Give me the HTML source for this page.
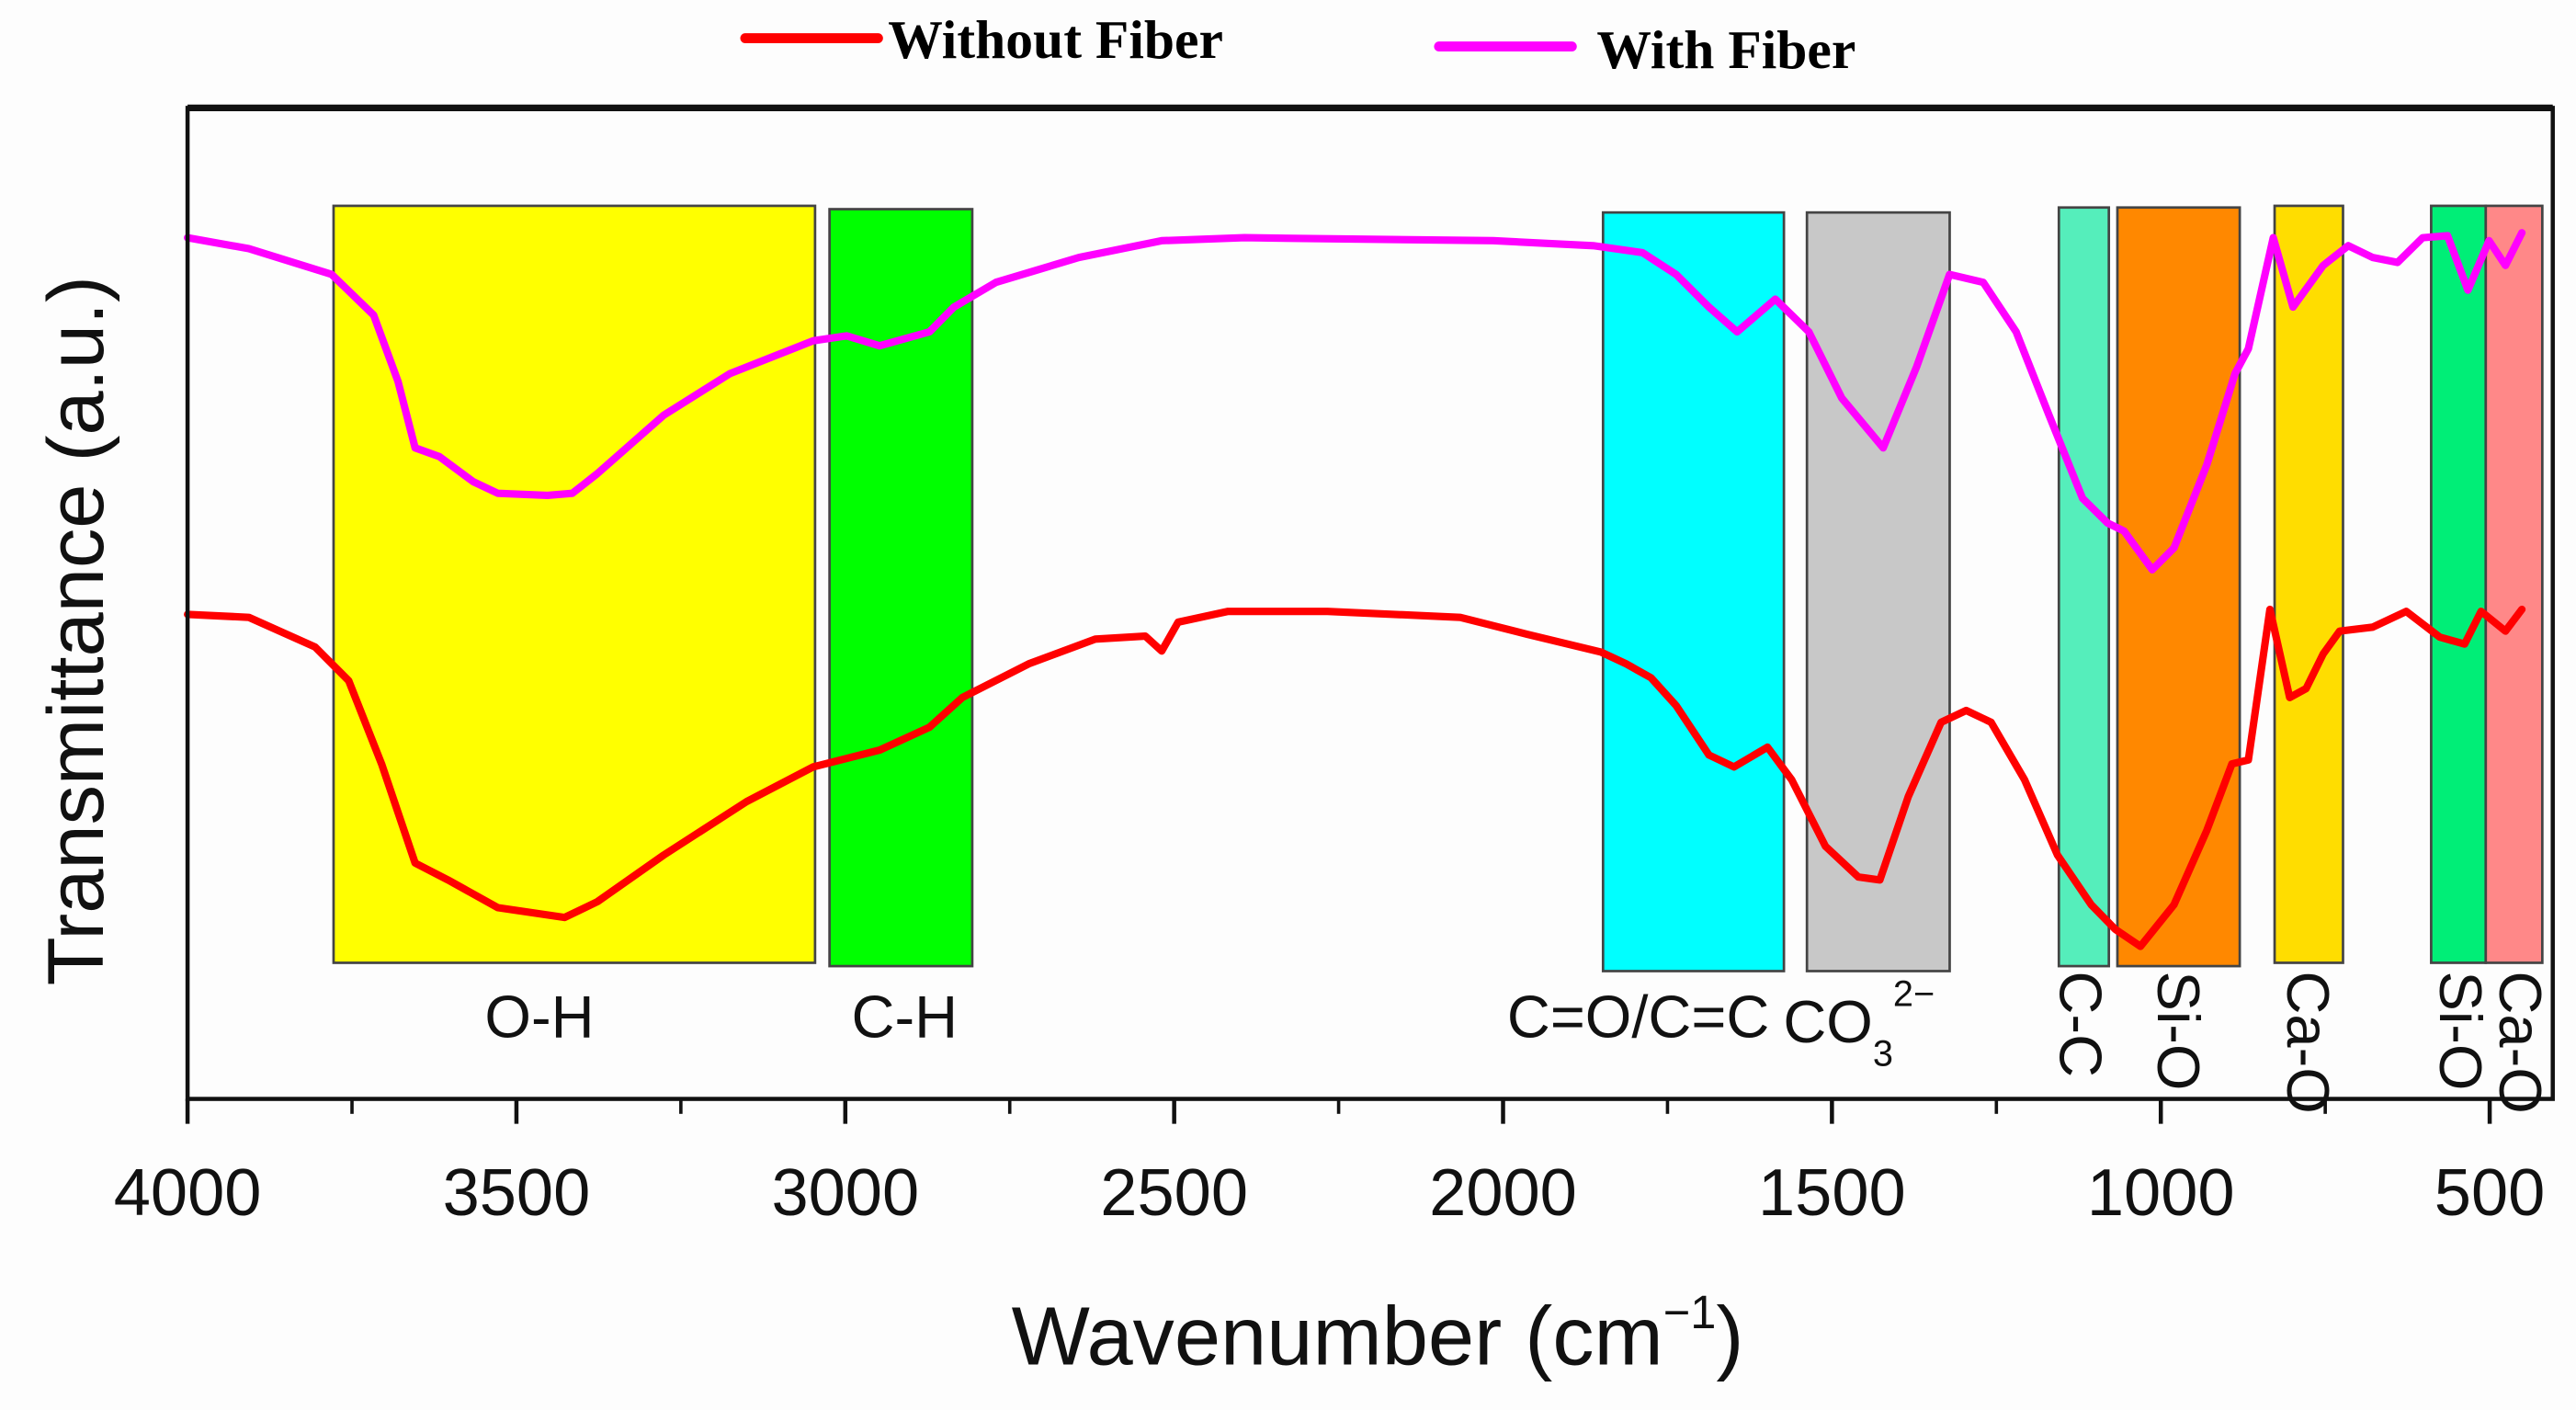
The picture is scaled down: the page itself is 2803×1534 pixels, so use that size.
<!DOCTYPE html>
<html><head><meta charset="utf-8"><style>
html,body{margin:0;padding:0;background:#fff}
svg{display:block}
</style></head><body>
<svg id="chart" width="2803" height="1534" viewBox="0 0 1552 849.4" preserveAspectRatio="none" xmlns="http://www.w3.org/2000/svg" font-family="'Liberation Sans', sans-serif">
<rect x="0" y="0" width="1552" height="849.4" fill="#fdfdfd"/>
<g id="bands"></g>
<g id="bandlabels"></g>
<g id="series"></g>
<rect x="113" y="65" width="1425" height="597" fill="none" stroke="#111" stroke-width="2.5"/>
<line x1="113" y1="65" x2="1538" y2="65" stroke="#111" stroke-width="4"/>
<g id="xaxis"></g>
<text x="830" y="822" text-anchor="middle" font-size="50" fill="#111">Wavenumber (cm<tspan font-size="28" dy="-22">−1</tspan><tspan dy="22">)</tspan></text>
<text transform="translate(62,380) rotate(-90)" text-anchor="middle" font-size="48" fill="#111">Transmittance (a.u.)</text>
<g>
<line x1="449" y1="23" x2="529" y2="23" stroke="#ff0000" stroke-width="6" stroke-linecap="round"/>
<text x="535" y="35" font-family="'Liberation Serif', serif" font-weight="bold" font-size="33" fill="#000">Without Fiber</text>
<line x1="867" y1="28" x2="947" y2="28" stroke="#ff00ff" stroke-width="6" stroke-linecap="round"/>
<text x="962" y="41" font-family="'Liberation Serif', serif" font-weight="bold" font-size="33" fill="#000">With Fiber</text>
</g>
</svg>
<script>
const xTicks = [4000,3500,3000,2500,2000,1500,1000,500];
const xMinor = [3750,3250,2750,2250,1750,1250,750];
const bandStart = [3778,3024,1848,1538,1155,1066,827,589,506];
const bandEnd = [3046,2807,1573,1321,1079,880,723,506,420];
const bandColors = ['#ffff00','#00ff00','#00ffff','#c8c8c8','#55eebb','#ff8800','#ffdd00','#00ee77','#ff8888'];
const bandNames = ['O-H','C-H','C=O/C=C','CO3','C-C','Si-O','Ca-O','Si-O','Ca-O'];
const withWn = [4000,3907,3781,3717,3680,3654,3617,3566,3528,3453,3415,3377,3276,3175,3049,2998,2948,2872,2835,2771,2645,2519,2393,2015,1863,1788,1737,1687,1644,1586,1535,1485,1422,1371,1321,1270,1220,1170,1119,1081,1056,1013,980,930,887,867,829,799,753,715,678,640,602,564,533,501,476,451];
const withT = [86.9,85.8,83.2,79.1,72.4,65.7,64.8,62.3,61.1,60.9,61.1,63.1,69.0,73.2,76.5,77.0,76.0,77.4,79.9,82.4,84.9,86.6,86.9,86.6,86.1,85.4,83.2,79.9,77.4,80.7,77.4,70.7,65.7,73.9,83.2,82.4,77.4,69.0,60.6,58.1,57.3,53.4,55.6,64.0,73.2,75.7,86.9,79.9,84.1,86.1,84.9,84.4,86.9,87.1,81.6,86.6,84.1,87.4];
const withoutWn = [4000,3907,3806,3755,3705,3654,3604,3528,3427,3377,3276,3150,3049,2948,2872,2822,2721,2620,2544,2519,2494,2418,2267,2065,1964,1851,1813,1775,1737,1687,1649,1598,1561,1510,1460,1427,1384,1334,1296,1258,1207,1157,1106,1069,1031,980,930,892,867,834,804,779,753,728,678,627,576,538,513,476,451];
const withoutT = [48.9,48.6,45.6,42.2,33.8,23.8,22.1,19.3,18.3,19.9,24.6,30.0,33.5,35.2,37.5,40.5,43.9,46.4,46.7,45.2,48.1,49.2,49.2,48.6,46.9,45.1,43.9,42.5,39.7,34.7,33.5,35.5,32.2,25.5,22.4,22.1,30.5,38.0,39.2,38.0,32.2,24.6,19.6,17.1,15.4,19.6,27.1,33.8,34.2,49.4,40.5,41.4,44.9,47.2,47.6,49.2,46.6,45.9,49.2,47.2,49.4];

const NS='http://www.w3.org/2000/svg';
const X = w => 113 + (4000 - w) * (1500 - 113) / 3500;
const Y = t => 662 - t * 5.97;
function mk(tag, attrs, parent){const e=document.createElementNS(NS,tag);for(const k in attrs)e.setAttribute(k,attrs[k]);parent.appendChild(e);return e;}

const bandsG=document.getElementById('bands');
const tops=[124,126,128,128,125,125,124,124,124];
const bots=[580,582,585,585,582,582,580,580,580];
bandStart.forEach((s,i)=>{
  const r=mk('rect',{x:X(s),y:tops[i],width:X(bandEnd[i])-X(s),height:bots[i]-tops[i],fill:bandColors[i],stroke:'#444','stroke-width':1.5},bandsG);
  
  
});

const lg=document.getElementById('bandlabels');
function lbl(txt,x,y,rot,name){
  const t=mk('text',{x:x,y:y,'font-size':36,fill:'#111','text-anchor':rot?'start':'middle'},lg);
  if(rot)t.setAttribute('transform','rotate(90 '+x+' '+y+')');
  t.textContent=txt;
  
  
  return t;
}
lbl('O-H',325,625,false,'label-oh');
lbl('C-H',545,625,false,'label-ch');
lbl('C=O/C=C',987,625,false,'label-co-cc');
const co=lbl('CO',1120,628,false,'label-co3');
co.innerHTML='CO<tspan font-size="22" dy="14">3</tspan><tspan font-size="22" dy="-36">2−</tspan>';
lbl('C-C',1241,585,true,'label-cc');
lbl('Si-O',1300,585,true,'label-sio-1');
lbl('Ca-O',1378,585,true,'label-cao-1');
lbl('Si-O',1470,585,true,'label-sio-2');
lbl('Ca-O',1506,585,true,'label-cao-2');

const sg=document.getElementById('series');
function line(wn,t,color,name){
  const d=wn.map((w,i)=>(i?'L':'M')+X(w).toFixed(1)+','+Y(t[i]).toFixed(1)).join(' ');
  const p=mk('path',{d:d,fill:'none',stroke:color,'stroke-width':4.5,'stroke-linejoin':'round','stroke-linecap':'round'},sg);
  
  
}
line(withWn,withT,'#ff00ff','series-with-fiber');
line(withoutWn,withoutT,'#ff0000','series-without-fiber');

const xa=document.getElementById('xaxis');
xTicks.forEach(v=>{
  const l=mk('line',{x1:X(v),y1:662,x2:X(v),y2:677,stroke:'#111','stroke-width':2.5},xa);
  
  
  const t=mk('text',{x:X(v),y:732,'text-anchor':'middle','font-size':40,fill:'#111'},xa);
  t.textContent=v;
  
  
});
xMinor.forEach(v=>{
  const l=mk('line',{x1:X(v),y1:662,x2:X(v),y2:671,stroke:'#111','stroke-width':2},xa);
  
  
});
</script>
</body></html>
